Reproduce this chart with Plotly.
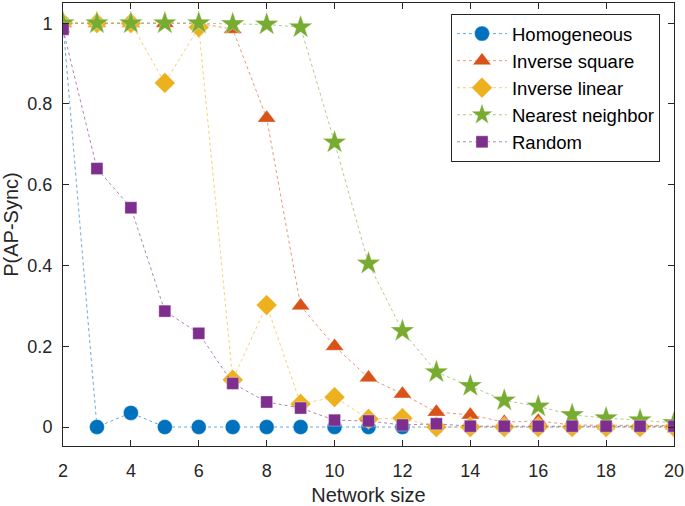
import plotly.graph_objects as go

network_size = list(range(2, 21))

homogeneous = [1.0, 0.0, 0.035, 0, 0, 0, 0, 0, 0, 0, 0, 0, 0, 0, 0, 0, 0, 0, 0]
inverse_square = [1.0, 1.0, 1.0, 1.0, 1.0, 0.985, 0.765, 0.30, 0.20, 0.122, 0.082, 0.037, 0.03, 0.012, 0.015, 0.005, 0.004, 0.004, 0.004]
inverse_linear = [1.0, 1.0, 1.0, 0.852, 0.99, 0.117, 0.302, 0.057, 0.074, 0.02, 0.022, 0.0, 0.0, 0.0, 0.0, 0.0, 0.0, 0.0, 0.0]
nearest_neighbor = [1.0, 1.0, 1.0, 1.0, 1.0, 0.998, 0.997, 0.99, 0.705, 0.405, 0.238, 0.136, 0.102, 0.066, 0.051, 0.03, 0.022, 0.017, 0.01]
random_net = [0.985, 0.64, 0.543, 0.287, 0.232, 0.108, 0.062, 0.047, 0.017, 0.015, 0.005, 0.008, 0.002, 0.002, 0.002, 0.002, 0.002, 0.002, 0.002]

series = [
    ("Homogeneous", homogeneous, "#0072BD", "rgba(0,114,189,0.6)", "circle", 15),
    ("Inverse square", inverse_square, "#D95319", "rgba(217,83,25,0.6)", "triangle-up", 16),
    ("Inverse linear", inverse_linear, "#EDB120", "rgba(237,177,32,0.6)", "diamond", 16),
    ("Nearest neighbor", nearest_neighbor, "#77AC30", "rgba(119,172,48,0.6)", "star", 18),
    ("Random", random_net, "#7E2F8E", "rgba(126,47,142,0.6)", "square", 12),
]

fig = go.Figure()
for name, vals, color, lcolor, sym, size in series:
    fig.add_trace(go.Scatter(
        x=network_size, y=vals, name=name, mode="lines+markers",
        line=dict(color=lcolor, width=1, dash="dot"),
        marker=dict(symbol=sym, size=size, color=color,
                    line=dict(width=0.6, color="rgba(255,255,255,0.6)")),
    ))

font_fam = "Liberation Sans, Arial"
axis_common = dict(
    showline=True, linecolor="#262626", linewidth=1, mirror="ticks",
    ticks="inside", ticklen=6, tickcolor="#262626", tickwidth=1,
    showgrid=False, zeroline=False,
    tickfont=dict(family=font_fam, size=18, color="#262626"),
    title_font=dict(family=font_fam, size=20, color="#262626"),
)

fig.update_xaxes(range=[2, 20], tickvals=list(range(2, 21, 2)), title_text="Network size",
                 title_standoff=9, ticklabelstandoff=8, **axis_common)
fig.update_yaxes(range=[-0.047, 1.05], tickvals=[0, 0.2, 0.4, 0.6, 0.8, 1],
                 ticktext=["0", "0.2", "0.4", "0.6", "0.8", "1"], title_text="P(AP-Sync)",
                 title_standoff=7, ticklabelstandoff=6, **axis_common)

fig.update_layout(
    width=685, height=506,
    margin=dict(l=63, r=11, t=3, b=60, autoexpand=False),
    plot_bgcolor="white", paper_bgcolor="white",
    font=dict(family=font_fam, size=18, color="#262626"),
    legend=dict(x=0.635, y=0.975, xanchor="left", yanchor="top",
                bordercolor="#262626", borderwidth=1, bgcolor="white",
                font=dict(family=font_fam, size=18.5, color="#000000"), tracegroupgap=0,
                itemwidth=50),
    showlegend=True,
)

fig.write_html("out.html", config={"displayModeBar": False},
               post_script="document.body.style.margin='0';")
